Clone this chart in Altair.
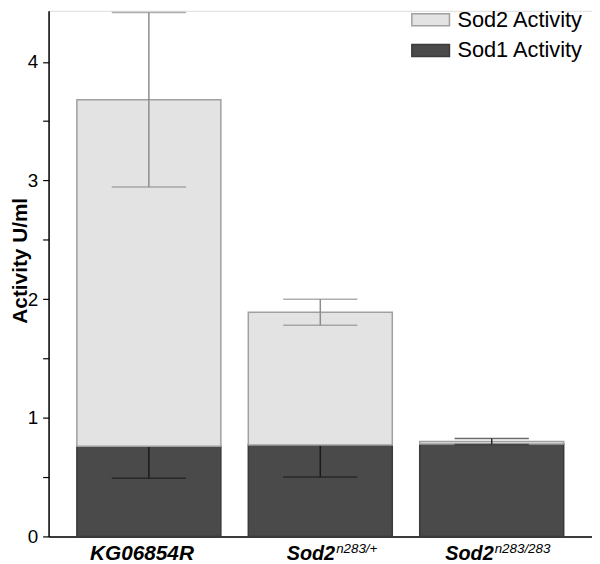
import altair as alt
import pandas as pd

categories = ["KG06854R", "Sod2 n283/+", "Sod2 n283/283"]
main_labels = ["KG06854R", "Sod2", "Sod2"]
sup_labels = ["", "n283/+", "n283/283"]
sod1 = [0.76, 0.77, 0.78]
sod2 = [2.92, 1.12, 0.02]
sod1_err = [0.27, 0.27, 0.0]
sod2_err = [0.735, 0.11, 0.025]
series = ["Sod2 Activity", "Sod1 Activity"]

rows = []
for c, a, b, ea, eb in zip(categories, sod1, sod2, sod1_err, sod2_err):
    rows.append(dict(cat=c, series="Sod1 Activity", lo=0.0, hi=a, err=ea,
                     elo=a - ea, ehi=a))
    rows.append(dict(cat=c, series="Sod2 Activity", lo=a, hi=a + b, err=eb,
                     elo=a + b - eb, ehi=a + b + eb))
df = pd.DataFrame(rows)
lab = pd.DataFrame(dict(cat=categories, main=main_labels, sup=sup_labels))

W, H = 549, 531
FONT = "Liberation Sans"

x = alt.X("cat:N", sort=categories,
          scale=alt.Scale(paddingInner=0.16, paddingOuter=0.165),
          axis=alt.Axis(title=None, labels=False, ticks=False, domainColor="black",
                        domainWidth=1.5))
y = alt.Y("lo:Q", scale=alt.Scale(domain=[0, 4.43], nice=False, zero=True),
          axis=alt.Axis(title="Activity U/ml", values=[0, 0.5, 1, 1.5, 2, 2.5, 3, 3.5, 4],
                        labelExpr="datum.value % 1 == 0 ? format(datum.value, 'd') : ''",
                        grid=False, tickSize=6, tickColor="black", domainColor="black",
                        domainWidth=1.5, tickWidth=1.2,
                        labelFont=FONT, labelFontSize=19, labelColor="black", labelPadding=5,
                        titleFont=FONT, titleFontSize=21, titleFontWeight="bold",
                        titleColor="black", titleX=-28, titleY=252, titleAlign="center",
                        titleBaseline="middle", titleAngle=270))

color = alt.Color("series:N",
                  scale=alt.Scale(domain=series, range=["#e3e3e3", "#4a4a4a"]),
                  legend=alt.Legend(title=None, orient="none", legendX=366, legendY=-11,
                                    symbolType="M-1,-0.32H1V0.32H-1Z", symbolSize=1444,
                                    symbolStrokeWidth=1.5, labelFont=FONT, labelFontSize=22,
                                    labelColor="black", labelOffset=7, rowPadding=-7,
                                    padding=0))
stroke = alt.Stroke("series:N",
                    scale=alt.Scale(domain=series, range=["#a0a0a0", "#3a3a3a"]),
                    legend=None)

base = alt.Chart(df)

s1 = base.transform_filter("datum.series == 'Sod1 Activity'")
s2 = base.transform_filter("datum.series == 'Sod2 Activity'")

bar1 = s1.mark_bar(strokeWidth=1.5).encode(x=x, y=y, y2="hi:Q", fill=color, stroke=stroke)
bar2 = s2.mark_bar(strokeWidth=1.5).encode(x=x, y=y, y2="hi:Q", fill=color, stroke=stroke)

s1e = s1.transform_filter("datum.err > 0")
err1_v = s1e.mark_rule(color="#1a1a1a", strokeWidth=1.5).encode(x=x, y="elo:Q", y2="ehi:Q")
err1_c = s1e.mark_tick(color="#1a1a1a", size=75, thickness=1.5).encode(x=x, y="elo:Q")

s2e = s2.transform_filter("datum.err > 0")
ecol = alt.condition("datum.cat == 'Sod2 n283/283'", alt.value("#2a2a2a"), alt.value("#8c8c8c"))
err2_v = s2e.mark_rule(strokeWidth=1.5).encode(x=x, y="elo:Q", y2="ehi:Q", color=ecol)
err2_lo = s2e.mark_tick(size=75, thickness=1.5).encode(x=x, y="elo:Q", color=ecol)
err2_hi = s2e.mark_tick(size=75, thickness=1.5).encode(x=x, y="ehi:Q", color=ecol)

lb = alt.Chart(lab)
dxs = [-7, 15, 2]
text_layers = []
for c, d in zip(categories, dxs):
    sub = lb.transform_filter(alt.datum.cat == c)
    if c == categories[0]:
        text_layers.append(sub.mark_text(align="center", baseline="alphabetic", dx=d, dy=24,
                                         font=FONT, fontSize=21, fontWeight="bold",
                                         fontStyle="italic", color="black")
                           .encode(x=x, y=alt.datum(0), text="main:N"))
    else:
        text_layers.append(sub.mark_text(align="right", baseline="alphabetic", dx=d, dy=24,
                                         font=FONT, fontSize=20, fontWeight="bold",
                                         fontStyle="italic", color="black")
                           .encode(x=x, y=alt.datum(0), text="main:N"))
        text_layers.append(sub.mark_text(align="left", baseline="alphabetic", dx=d + 1, dy=17,
                                         font=FONT, fontSize=13.5, fontStyle="italic",
                                         color="black")
                           .encode(x=x, y=alt.datum(0), text="sup:N"))

chart = alt.layer(bar1, err1_v, err1_c, bar2, err2_v, err2_lo, err2_hi, *text_layers).properties(
    width=W, height=H, autosize=alt.AutoSizeParams(type="none"),
    padding={"left": 41, "top": 0, "right": 0, "bottom": 25}
).configure_view(stroke=None).configure(background="white")

chart.save("out.html", embed_options={"renderer": "svg", "actions": False})
